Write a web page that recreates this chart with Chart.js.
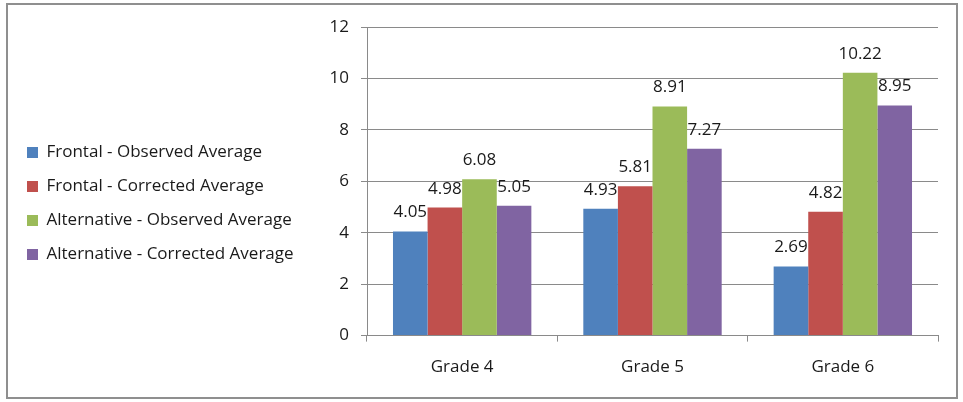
<!DOCTYPE html>
<html>
<head>
<meta charset="utf-8">
<script src="https://cdn.jsdelivr.net/npm/chart.js@4"></script>
<style>
  html, body { margin: 0; padding: 0; background: #fff; }
  #wrap { width: 963px; height: 402px; position: relative; }
</style>
</head>
<body>
<div id="wrap"><canvas id="grades-chart"></canvas></div>
<script>
const categories = ["Grade 4", "Grade 5", "Grade 6"];
const seriesNames = [
  "Frontal - Observed Average",
  "Frontal - Corrected Average",
  "Alternative - Observed Average",
  "Alternative - Corrected Average",
];
const frontalObserved = [4.05, 4.93, 2.69];
const frontalCorrected = [4.98, 5.81, 4.82];
const alternativeObserved = [6.08, 8.91, 10.22];
const alternativeCorrected = [5.05, 7.27, 8.95];
const yTicks = [0, 2, 4, 6, 8, 10, 12];

const colors = ["#4F81BD", "#C0504D", "#9BBB59", "#8064A2"];
const FONT = "'Open Sans', sans-serif";
const PLOT_LEFT = 367;
const PAD_LEFT = 10;
const LEGEND_SHIFT = -6;

// outer frame round the whole chart
const framePlugin = {
  id: "frame",
  afterLayout(chart) {
    // nudge the legend block up a little, like the original
    chart.legend.top += LEGEND_SHIFT;
    chart.legend.bottom += LEGEND_SHIFT;
  },
  afterDraw(chart) {
    const c = chart.ctx;
    c.save();
    c.strokeStyle = "#8f8f8f";
    c.lineWidth = 2;
    c.strokeRect(7, 4, 950, 394);
    c.restore();
  },
};

// value labels above each bar
const valueLabels = {
  id: "valueLabels",
  afterDatasetsDraw(chart) {
    const c = chart.ctx;
    c.save();
    c.font = "17px " + FONT;
    c.fillStyle = "#1a1a1a";
    c.textAlign = "center";
    c.textBaseline = "alphabetic";
    chart.data.datasets.forEach((ds, i) => {
      chart.getDatasetMeta(i).data.forEach((bar, j) => {
        c.fillText(ds.data[j].toFixed(2), bar.x, bar.y - 14);
      });
    });
    c.restore();
  },
};

const ctx = document.getElementById("grades-chart").getContext("2d");

new Chart(ctx, {
  type: "bar",
  data: {
    labels: categories,
    datasets: [frontalObserved, frontalCorrected, alternativeObserved, alternativeCorrected].map((d, i) => ({
      label: seriesNames[i],
      data: d,
      backgroundColor: colors[i],
      borderWidth: 0,
      barPercentage: 1,
      categoryPercentage: 0.727,
    })),
  },
  options: {
    responsive: true,
    maintainAspectRatio: false,
    animation: false,
    devicePixelRatio: 1,
    layout: { padding: { left: PAD_LEFT, top: 27, right: 25, bottom: 10 } },
    scales: {
      x: {
        grid: {
          offset: true,
          drawOnChartArea: false,
          drawTicks: true,
          tickLength: 6,
          color: "#8a8a8a",
        },
        border: { color: "#8a8a8a" },
        ticks: { color: "#1a1a1a", font: { family: FONT, size: 17 }, padding: 15 },
      },
      y: {
        min: 0,
        max: 12,
        afterBuildTicks(scale) {
          scale.ticks = yTicks.map((v) => ({ value: v }));
        },
        afterFit(scale) {
          scale.width = PLOT_LEFT - PAD_LEFT - scale.chart.legend.width;
        },
        grid: { color: "#8a8a8a", tickLength: 6 },
        border: { color: "#8a8a8a" },
        ticks: { color: "#1a1a1a", font: { family: FONT, size: 17 }, padding: 12 },
      },
    },
    plugins: {
      legend: {
        position: "left",
        maxWidth: 320,
        labels: {
          boxWidth: 11,
          boxHeight: 11,
          padding: 17,
          color: "#1a1a1a",
          font: { family: FONT, size: 17 },
        },
      },
      tooltip: { enabled: false },
    },
  },
  plugins: [valueLabels, framePlugin],
});
</script>
</body>
</html>
